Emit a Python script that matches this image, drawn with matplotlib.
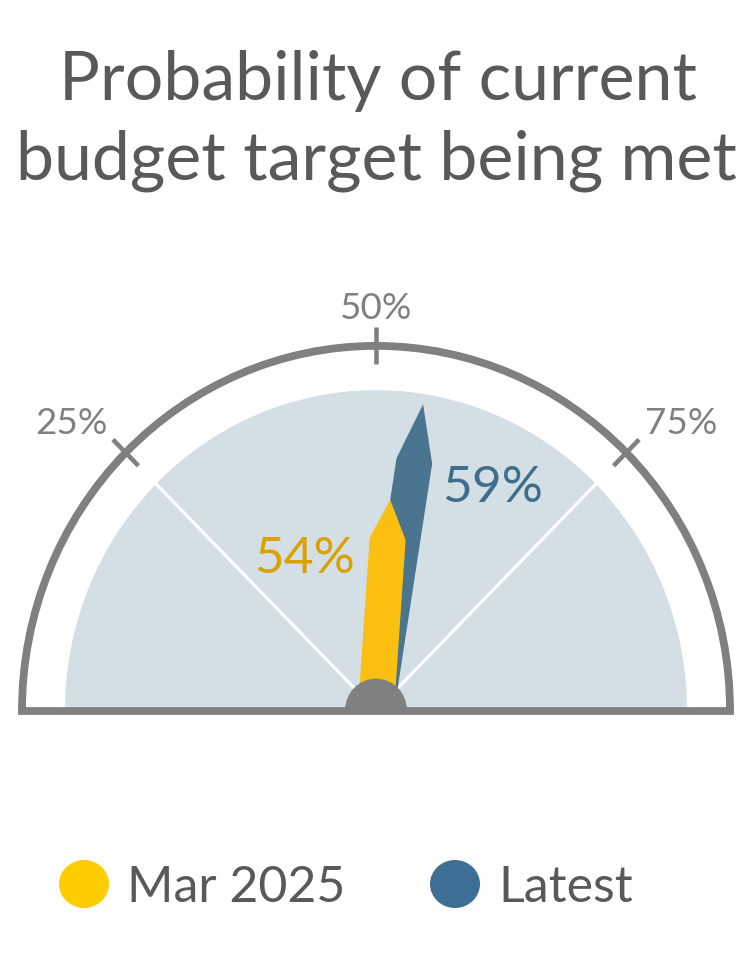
import numpy as np
import matplotlib
matplotlib.use("Agg")
import matplotlib.pyplot as plt
from matplotlib.patches import Wedge, Arc, Polygon, Ellipse

# ---------------- data ----------------
title_lines = ["Probability of current", "budget target being met"]
series_names = ["Mar 2025", "Latest"]
series_values = [54, 59]            # percent
tick_values = [25, 50, 75]
tick_labels = ["25%", "50%", "75%"]

# ---------------- style ----------------
FONT = "Lato"
C_GREY = "#808080"
C_TEXT = "#595959"
C_BAND = "#D3DEE5"
needle_colors = ["#FBBF12", "#497591"]
label_colors = ["#D9A200", "#3F6D8C"]
legend_colors = ["#FFCC00", "#3D6F94"]
needle_lengths = [205, 301]          # needle length (data units)
label_side = [-1, 1]
NEEDLE_DEG_PER_PCT = 1.0             # needles as drawn in the reference

W, H = 750, 959
SY = 1.03                            # vertical stretch of the gauge
CX_PX, CY_PX = 376, 710.5
R_OUT, R_BAND, R_HUB = 354, 311, 31

fig = plt.figure(figsize=(W / 100, H / 100), dpi=100)
ax = fig.add_axes([0, 0, 1, 1])
ax.set_xlim(0, W)
ax.set_ylim(-(H - CY_PX) / SY, CY_PX / SY)
ax.axis("off")


def py(ypx):
    """pixel row (from top) -> data y"""
    return (CY_PX - ypx) / SY


cx, cy = CX_PX, 0.0


def gauge_angle(v):
    return 180.0 - v * 1.8


def polar(r, deg):
    a = np.deg2rad(deg)
    return cx + r * np.cos(a), cy + r * np.sin(a)


# band
ax.add_patch(Wedge((cx, cy), R_BAND, 0, 180, facecolor=C_BAND, edgecolor="none", zorder=1))
# white dividers at 25% and 75%
for v in (25, 75):
    x1, y1 = polar(R_BAND + 2, gauge_angle(v))
    ax.plot([cx, x1], [cy, y1], color="white", lw=2.3, zorder=2, solid_capstyle="butt")

# outer arc + baseline
ax.add_patch(Arc((cx, cy), 2 * R_OUT, 2 * R_OUT, theta1=0, theta2=180,
                 color=C_GREY, lw=5.6, zorder=3))
ax.plot([cx - R_OUT, cx + R_OUT], [cy, cy], color=C_GREY, lw=5.6,
        solid_capstyle="projecting", zorder=3)

# ticks and tick labels
for v, lab in zip(tick_values, tick_labels):
    a = gauge_angle(v)
    x0, y0 = polar(R_OUT - 18, a)
    x1, y1 = polar(R_OUT + 18, a)
    ax.plot([x0, x1], [y0, y1], color=C_GREY, lw=3.3, zorder=3, solid_capstyle="butt")
    lx, ly = polar(380, a)
    ha = "center" if abs(a - 90) < 1 else ("right" if a > 90 else "left")
    ax.text(lx, ly, lab, ha=ha, va="baseline", color=C_GREY,
            fontsize=26.5, family=FONT, zorder=4)

# needles (Latest underneath, Mar 2025 on top)
order = [1, 0]
for i in order:
    v = series_values[i]
    ang = np.deg2rad(90.0 - (v - 50) * NEEDLE_DEG_PER_PCT)
    u = np.array([np.cos(ang), np.sin(ang)])
    n = np.array([np.sin(ang), -np.cos(ang)])
    L = needle_lengths[i]
    hw = 18
    local = [(12, -hw), (0.815 * L, -hw), (L, 0), (0.815 * L, hw), (12, hw)]
    pts = [(cx + d * u[0] + p * n[0], cy + d * u[1] + p * n[1]) for d, p in local]
    ax.add_patch(Polygon(pts, closed=True, facecolor=needle_colors[i],
                         edgecolor="none", zorder=5 + (1 - i)))
    # value label
    d = 0.74 * L
    lx = cx + d * u[0] + label_side[i] * 82
    ly = cy + d * u[1] - 17.5
    ax.text(lx, ly, f"{v}%", ha="center", va="baseline", color=label_colors[i],
            fontsize=37, family=FONT, zorder=8)

# hub
ax.add_patch(Wedge((cx, cy), R_HUB, 0, 180, facecolor=C_GREY, edgecolor="none", zorder=9))

# title
ax.text(378, py(100), title_lines[0], ha="center", va="baseline", color=C_TEXT,
        fontsize=49, family=FONT)
ax.text(376, py(180), title_lines[1], ha="center", va="baseline", color=C_TEXT,
        fontsize=49, family=FONT)

# legend
leg_x = [84, 455]
for i, name in enumerate(series_names):
    ax.add_patch(Ellipse((leg_x[i], py(884)), 50, 48 / SY, facecolor=legend_colors[i],
                         edgecolor="none"))
    ax.text(leg_x[i] + 43, py(902), name, ha="left", va="baseline", color=C_TEXT,
            fontsize=36, family=FONT)

fig.savefig("out.png", dpi=100, facecolor="white")
